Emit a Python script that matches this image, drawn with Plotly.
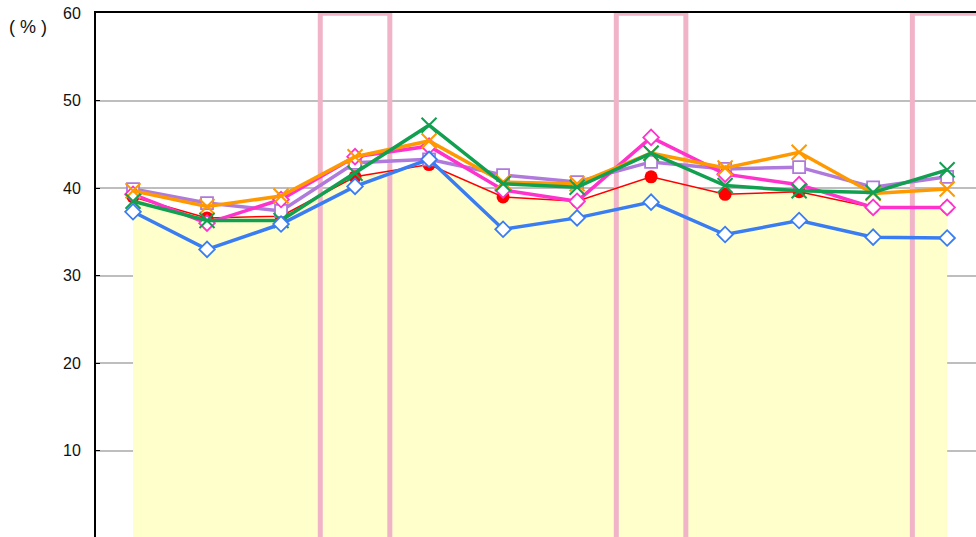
import plotly.graph_objects as go

categories = ["1", "2", "3", "4", "5", "6", "7", "8", "9", "10", "11", "12"]
blue_vals = [37.3, 33.0, 35.9, 40.2, 43.3, 35.3, 36.6, 38.4, 34.7, 36.3, 34.4, 34.3]
red_vals = [39.0, 36.6, 36.8, 41.3, 42.7, 39.0, 38.5, 41.3, 39.3, 39.6, 37.8, 37.8]
magenta_vals = [39.3, 36.0, 38.7, 43.6, 44.8, 39.8, 38.5, 45.8, 41.6, 40.4, 37.8, 37.8]
purple_vals = [39.9, 38.3, 37.4, 42.9, 43.3, 41.5, 40.7, 43.0, 42.2, 42.4, 40.1, 41.3]
orange_vals = [39.7, 37.9, 39.1, 43.6, 45.4, 40.7, 40.5, 44.0, 42.3, 44.1, 39.4, 39.9]
green_vals = [38.5, 36.3, 36.3, 41.7, 47.2, 40.5, 40.1, 44.0, 40.3, 39.7, 39.5, 42.1]
highlight_idx = [3, 7, 11]
y_ticks = [0, 10, 20, 30, 40, 50, 60]

x = list(range(len(categories)))
fig = go.Figure()

# yellow area under the red series
fig.add_trace(go.Scatter(x=x, y=red_vals, mode="none", fill="tozeroy",
                         fillcolor="#FFFFCC", hoverinfo="skip"))

# pink highlight frames
for i in highlight_idx:
    fig.add_trace(go.Scatter(
        x=[i - 0.47, i - 0.47, i + 0.47, i + 0.47],
        y=[-2, 60, 60, -2], mode="lines",
        line=dict(color="#F0B3C8", width=5), hoverinfo="skip"))

def diamond(color):
    return dict(symbol="diamond", size=12, color="white", line=dict(color=color, width=1.8))

fig.add_trace(go.Scatter(x=x, y=red_vals, mode="lines+markers",
                         line=dict(color="#FF0000", width=1.5),
                         marker=dict(symbol="circle", size=13, color="#FF0000")))
fig.add_trace(go.Scatter(x=x, y=purple_vals, mode="lines+markers",
                         line=dict(color="#AF7ADB", width=3.5),
                         marker=dict(symbol="square", size=12, color="white",
                                     line=dict(color="#AF7ADB", width=1.8))))
fig.add_trace(go.Scatter(x=x, y=magenta_vals, mode="lines+markers",
                         line=dict(color="#FF33CC", width=3.5),
                         marker=diamond("#FF33CC")))
fig.add_trace(go.Scatter(x=x, y=orange_vals, mode="lines+markers",
                         line=dict(color="#FF9900", width=3.5),
                         marker=dict(symbol="x-thin", size=15,
                                     line=dict(color="#FF9900", width=2))))
fig.add_trace(go.Scatter(x=x, y=green_vals, mode="lines+markers",
                         line=dict(color="#10A050", width=3.5),
                         marker=dict(symbol="x-thin", size=15,
                                     line=dict(color="#10A050", width=2))))
fig.add_trace(go.Scatter(x=x, y=blue_vals, mode="lines+markers",
                         line=dict(color="#3A7DF2", width=3.5),
                         marker=diamond("#3A7DF2")))

fig.update_layout(
    width=976, height=537,
    margin=dict(l=96, r=0, t=13, b=0),
    plot_bgcolor="white", paper_bgcolor="white",
    showlegend=False,
    font=dict(family="Liberation Sans, Arial, sans-serif", size=16, color="#111111"),
)
fig.update_xaxes(
    range=[-0.5, 11.39], tickvals=x, ticktext=categories,
    showgrid=False, zeroline=False, showticklabels=False,
    showline=True, mirror=True, linecolor="#000000", linewidth=2,
    layer="below traces", automargin=False,
)
fig.update_yaxes(
    range=[0.11, 60.03], tickvals=y_ticks, showgrid=True, gridcolor="#BEBEBE",
    gridwidth=1.5, zeroline=False, showline=True, linecolor="#000000", linewidth=2,
    ticks="inside", ticklen=4, tickcolor="#000000", ticklabelstandoff=10,
    ticklabeloverflow="allow", automargin=False,
    layer="below traces",
)
fig.add_annotation(text="( % )", xref="paper", yref="paper",
                   x=-0.0773, y=0.973, xanchor="center", yanchor="middle",
                   showarrow=False,
                   font=dict(family="Liberation Sans, Arial, sans-serif", size=18, color="#111111"))

fig.write_html("out.html", config={"displayModeBar": False},
               post_script="document.body.style.margin='0';document.body.style.overflow='hidden';")
